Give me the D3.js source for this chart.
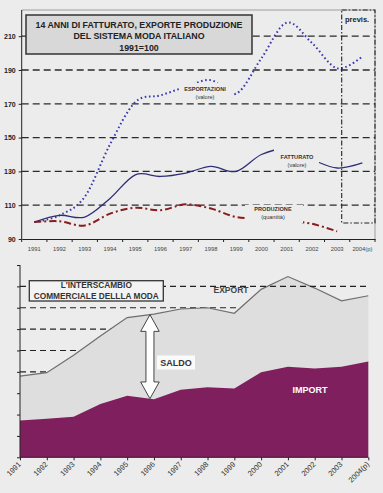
<!DOCTYPE html>
<html><head><meta charset="utf-8">
<script src="https://cdn.jsdelivr.net/npm/d3@7/dist/d3.min.js"></script>
<style>
html,body{margin:0;padding:0;background:#ececec;}
svg{display:block;font-family:"Liberation Sans",Arial,sans-serif;}
</style></head>
<body><svg id="c" width="383" height="493"></svg>
<script>
// ---------- DATA ----------
const years = ["1991","1992","1993","1994","1995","1996","1997","1998","1999","2000","2001","2002","2003","2004(p)"];
const esportazioni = [100,104,115,146,171,175,180,184,176,197,218,206,191,198];
const fatturato    = [100,104,103,114,128,127,129,133,130,140,143,137,132,135];
const produzione   = [100,100.5,98,105,108.5,107,110.5,108,103,102,101,99,94.5,null];
const topTicks = [90,110,130,150,170,190,210];
const topGrid  = [110,130,150,170,190,210];

const exportVal = [19.0,19.8,23.9,28.4,32.7,33.5,34.7,35.0,33.7,39.3,42.3,39.6,36.6,37.8];
const importVal = [8.6,9.0,9.5,12.5,14.4,13.6,15.8,16.4,16.1,19.9,21.2,20.8,21.2,22.4];
const botTicks = [0,5,10,15,20,25,30,35,40,45];
const botGridBehind = [20,25,30,35];
const botGridFront = [40];

const svg = d3.select("#c");
const bg = "#ececec";
svg.append("rect").attr("width",383).attr("height",493).attr("fill",bg);

// ---------- TOP CHART ----------
const tL=21.7, tR=375, tT=10, tB=239;
const xT = d3.scaleBand().domain(years).range([tL,tR]);
const yT = d3.scaleLinear().domain([90,225.5]).range([tB,tT]);
const cx = d => xT(d)+xT.bandwidth()/2;
const gT = svg.append("g");

// frame
gT.append("path").attr("d",`M${tL},${tT}H${tR}V${tB}`).attr("fill","none").attr("stroke","#8a8a8a").attr("stroke-width",0.8);
// grid
gT.selectAll(".g").data(topGrid).join("line")
  .attr("x1",tL).attr("x2",tR).attr("y1",d=>yT(d)).attr("y2",d=>yT(d))
  .attr("stroke","#2a2a2a").attr("stroke-width",1.3).attr("stroke-dasharray","7,4");

// axes
const axL = d3.axisLeft(yT).tickValues(topTicks).tickSize(3).tickPadding(3);
const gyT = gT.append("g").attr("transform",`translate(${tL},0)`).call(axL);
gyT.select(".domain").attr("stroke","#222").attr("d",`M-0,${tT}V${tB}`);
gyT.selectAll(".tick line").attr("stroke","#222");
gyT.selectAll("text").attr("font-size",7).attr("font-weight","bold").attr("fill","#222").attr("font-family","Liberation Sans, Arial");

const axB = d3.axisBottom(xT).tickSize(0).tickPadding(8);
const gxT = gT.append("g").attr("transform",`translate(0,${tB})`).call(axB);
gxT.select(".domain").attr("stroke","#222");
gxT.selectAll("text").attr("font-size",5.8).attr("fill","#444").attr("font-family","Liberation Sans, Arial");
// tick marks at band boundaries
gT.selectAll(".bt").data(years.concat(["end"])).join("line")
  .attr("x1",(d,i)=>tL+i*xT.bandwidth()).attr("x2",(d,i)=>tL+i*xT.bandwidth())
  .attr("y1",tB).attr("y2",tB+3).attr("stroke","#222");

// lines
const mk = arr => d3.line().defined(d=>d!=null).x((d,i)=>cx(years[i])).y(d=>yT(d)).curve(d3.curveCardinal.tension(0))(arr);
gT.append("path").attr("d",mk(esportazioni)).attr("fill","none").attr("stroke","#3a3aae").attr("stroke-width",2).attr("stroke-dasharray","1.6,2.6");
gT.append("path").attr("d",mk(fatturato)).attr("fill","none").attr("stroke","#2e2e78").attr("stroke-width",1.3);
gT.append("path").attr("d",mk(produzione)).attr("fill","none").attr("stroke","#861c1c").attr("stroke-width",2).attr("stroke-dasharray","7,3,2,3");

// data labels (with background boxes)
function dlabel(x,y,l1,l2,bx){
  gT.append("rect").attr("x",bx[0]).attr("y",bx[1]).attr("width",bx[2]).attr("height",bx[3]).attr("fill",bg);
  gT.append("text").attr("x",x).attr("y",y).attr("text-anchor","middle").attr("font-size",5.6).attr("font-weight","bold").attr("fill","#333").text(l1);
  gT.append("text").attr("x",x).attr("y",y+8).attr("text-anchor","middle").attr("font-size",5.6).attr("fill","#333").text(l2);
}
dlabel(205,91,"ESPORTAZIONI","(valore)",[181,83,53,18]);
dlabel(297,159,"FATTURATO","(valore)",[274,148,45,21]);
dlabel(273,211,"PRODUZIONE","(quantità)",[245,205,58,18]);

// previsioni box
gT.append("rect").attr("x",341.7).attr("y",tT).attr("width",tR-341.7).attr("height",223-tT)
  .attr("fill","none").attr("stroke","#222").attr("stroke-width",1.1).attr("stroke-dasharray","5,2,1.5,2");
gT.append("text").attr("x",345).attr("y",22).attr("font-size",7.5).attr("font-weight","bold").attr("fill","#222").text("previs.");

// title box
gT.append("rect").attr("x",26).attr("y",15).attr("width",226).attr("height",39).attr("fill","#d8d8d8").attr("stroke","#333").attr("stroke-width",1.5);
const titles=["14 ANNI DI FATTURATO, EXPORTE PRODUZIONE","DEL SISTEMA MODA ITALIANO","1991=100"];
titles.forEach((t,i)=>gT.append("text").attr("x",139).attr("y",28.2+i*11.2).attr("text-anchor","middle")
  .attr("font-size",8.8).attr("font-weight","bold").attr("fill","#222").text(t));

// ---------- BOTTOM CHART ----------
const bL=20, bR=368.3, bT=265, bB=457.3;
const xB = d3.scalePoint().domain(years).range([bL,bR]);
const yB = d3.scaleLinear().domain([0,45]).range([bB,bT]);
const gB = svg.append("g");

const gridLine = (sel,data)=>sel.selectAll(null).data(data).join("line")
  .attr("x1",bL).attr("x2",bR).attr("y1",d=>yB(d)).attr("y2",d=>yB(d))
  .attr("stroke","#222").attr("stroke-width",1.1).attr("stroke-dasharray","6,4");
gridLine(gB,botGridBehind);

const areaE = d3.area().x((d,i)=>xB(years[i])).y0(bB).y1(d=>yB(d));
gB.append("path").attr("d",areaE(exportVal)).attr("fill","#dedede");
gB.append("path").attr("d",areaE(importVal)).attr("fill","#801f5d");
gB.append("path").attr("d",d3.line().x((d,i)=>xB(years[i])).y(d=>yB(d))(exportVal)).attr("fill","none").attr("stroke","#6e6e6e").attr("stroke-width",1.2);
gridLine(gB,botGridFront);

// axes
const gyB = gB.append("g").attr("transform",`translate(${bL},0)`).call(d3.axisLeft(yB).tickValues(botTicks).tickSize(3).tickFormat(""));
gyB.select(".domain").attr("stroke","#222").attr("d",`M0,${bT}V${bB}`);
gyB.selectAll(".tick line").attr("stroke","#222");
const gxB = gB.append("g").attr("transform",`translate(0,${bB})`).call(d3.axisBottom(xB).tickSize(3).tickFormat(""));
gxB.select(".domain").attr("stroke","#222").attr("d",`M${bL},0H${bR}`);
gxB.selectAll(".tick line").attr("stroke","#222");
gB.selectAll(".xl").data(years).join("text")
  .attr("transform",d=>`translate(${xB(d)+1.5},${bB+7.5}) rotate(-45)`)
  .attr("text-anchor","end").attr("font-size",7.5).attr("fill","#333").text(d=>d);

// legend box
gB.append("rect").attr("x",29.3).attr("y",280.7).attr("width",134).attr("height",20.3).attr("fill","#f3f3f3").attr("stroke","#333").attr("stroke-width",1.3);
gB.append("text").attr("x",96.3).attr("y",288.3).attr("text-anchor","middle").attr("font-size",8.3).attr("font-weight","bold").attr("fill","#333").text("L'INTERSCAMBIO");
gB.append("text").attr("x",96.3).attr("y",298.6).attr("text-anchor","middle").attr("font-size",8.3).attr("font-weight","bold").attr("fill","#333").text("COMMERCIALE DELLLA MODA");

gB.append("text").attr("x",231).attr("y",292.5).attr("text-anchor","middle").attr("font-size",8.5).attr("font-weight","bold").attr("fill","#444").text("EXPORT");

// saldo arrow between export and import near 1996
const fi = 4.85, i0 = Math.floor(fi), fr = fi-i0;
const ax = bL + fi*xB.step();
const topV = exportVal[i0]+(exportVal[i0+1]-exportVal[i0])*fr;
const botV = importVal[i0]+(importVal[i0+1]-importVal[i0])*fr;
const at = yB(topV), ab = yB(botV), hw=9.3, sw=4, hl=16.7;
gB.append("path").attr("d",`M${ax},${at}L${ax+hw},${at+hl}L${ax+sw},${at+hl}L${ax+sw},${ab-hl}L${ax+hw},${ab-hl}L${ax},${ab}L${ax-hw},${ab-hl}L${ax-sw},${ab-hl}L${ax-sw},${at+hl}L${ax-hw},${at+hl}Z`)
  .attr("fill","#ffffff").attr("stroke","#444").attr("stroke-width",1);

gB.append("rect").attr("x",157).attr("y",355.5).attr("width",38).attr("height",14).attr("fill","#fafafa");
gB.append("text").attr("x",176).attr("y",366).attr("text-anchor","middle").attr("font-size",9).attr("font-weight","bold").attr("fill","#333").text("SALDO");
gB.append("text").attr("x",310).attr("y",392.5).attr("text-anchor","middle").attr("font-size",9).attr("font-weight","bold").attr("fill","#ffffff").text("IMPORT");
</script></body></html>
